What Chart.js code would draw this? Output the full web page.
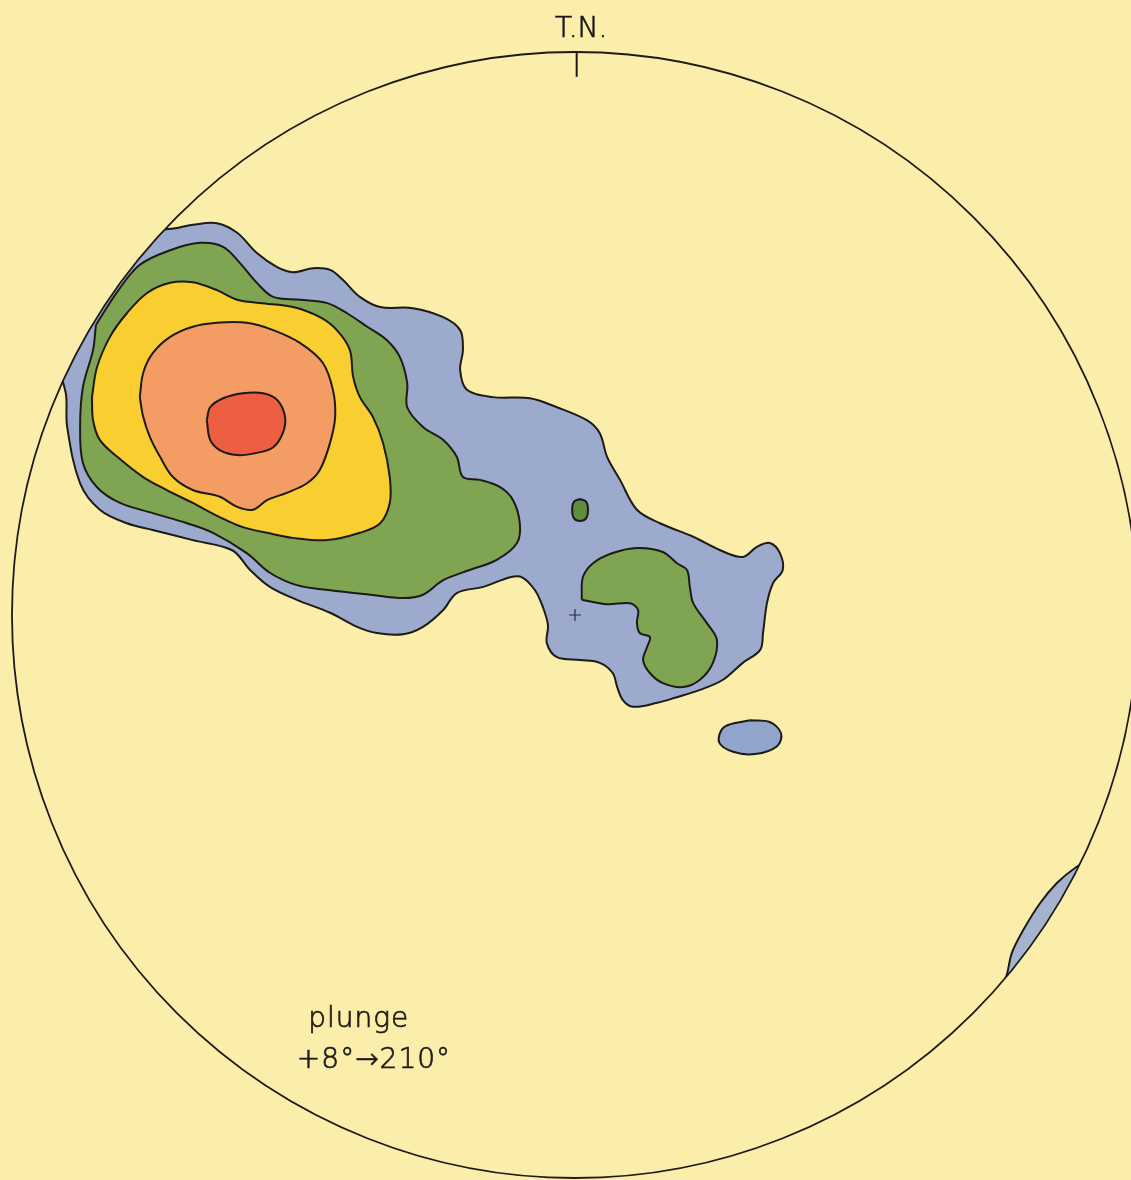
<!DOCTYPE html>
<html>
<head>
<meta charset="utf-8">
<script src="https://cdn.jsdelivr.net/npm/chart.js@4"></script>
<style>
  html, body { margin: 0; padding: 0; background: #FBEEAA; overflow: hidden; }
  #wrap { position: relative; width: 1131px; height: 1180px; }
  canvas { display: block; }
</style>
</head>
<body>
<div id="wrap"><canvas id="c"></canvas></div>
<script>
// Stereonet coordinates: net radius = 100, centre at (0,0), north up.
const NET_RADIUS = 100;

// Contour outlines (x, y) in net coordinates
const blueOuter = [
  [-82.6,63.9],[-75.5,68.0],[-71.0,68.7],[-67.9,69.3],[-63.6,69.6],[-60.0,67.9],[-56.5,64.3],[-52.9,61.8],
  [-50.1,60.9],[-46.5,61.6],[-43.5,61.3],[-41.2,59.5],[-38.2,56.5],[-34.6,54.7],[-28.8,54.5],[-23.4,52.9],
  [-20.4,50.6],[-19.9,47.1],[-20.4,43.5],[-19.2,40.0],[-14.6,38.7],[-8.0,38.5],[-3.2,36.9],[2.1,34.6],
  [4.4,32.3],[5.7,28.1],[8.0,24.0],[11.0,18.7],[15.1,16.3],[21.0,13.9],[25.8,11.5],[29.8,10.3],
  [32.3,12.1],[34.6,12.8],[36.4,11.0],[36.9,8.0],[35.2,5.7],[34.1,2.1],[33.4,-3.2],[32.9,-6.2],
  [29.8,-8.5],[26.3,-11.5],[22.2,-13.3],[18.1,-14.6],[14.6,-15.6],[10.3,-16.3],[8.5,-15.1],[7.5,-12.8],
  [6.7,-10.3],[4.4,-8.5],[0.9,-8.0],[-3.2,-7.5],[-5.0,-5.0],[-4.8,-1.8],[-5.7,1.4],[-7.1,4.4],
  [-9.4,6.7],[-11.5,6.7],[-16.3,5.0],[-21.0,3.9],[-23.4,0.9],[-27.0,-2.1],[-30.5,-3.4],[-35.2,-3.2],
  [-38.7,-2.1],[-43.5,0.4],[-49.4,2.7],[-54.2,5.0],[-57.7,8.0],[-60.9,11.5],[-67.9,13.3],[-75.0,15.1],
  [-79.6,16.3],[-84.4,18.7],[-87.9,23.4],[-90.2,33.4],[-90.4,39.1],[-91.5,43.5],[-92.4,52.4]
];
const blueSpot = [
  [31.1,-18.7],[34.6,-19.0],[36.6,-21.0],[35.9,-23.3],[32.0,-24.7],[28.1,-24.3],[25.6,-22.6],[26.5,-19.9]
];
const blueLens = [
  [91.5,-43.5],[89.0,-44.8],[85.6,-47.6],[82.6,-51.2],[79.6,-56.0],[77.6,-60.0],[76.7,-63.9],[75.5,-67.0],[96.8,-56.0]
];
const greenMain = [
  [-85.1,51.5],[-81.3,57.4],[-77.3,62.2],[-71.9,64.8],[-66.6,66.1],[-62.5,65.4],[-59.5,62.5],[-56.5,59.0],
  [-53.6,56.5],[-48.8,56.0],[-44.0,55.4],[-40.5,53.6],[-36.9,51.2],[-33.4,48.8],[-31.1,45.8],[-29.8,41.2],
  [-29.8,36.9],[-27.0,33.4],[-23.4,31.1],[-21.0,28.1],[-19.9,24.5],[-16.9,24.0],[-13.3,22.7],[-11.0,20.4],
  [-9.8,16.3],[-10.3,12.8],[-13.9,9.8],[-18.7,8.0],[-23.4,6.2],[-27.0,3.6],[-30.5,3.0],[-36.4,3.6],
  [-43.5,4.4],[-49.4,5.3],[-54.2,7.5],[-58.3,11.0],[-64.3,14.6],[-68.9,16.3],[-75.0,18.1],
  [-80.8,19.9],[-84.9,22.7],[-87.4,27.0],[-87.9,33.4],[-87.4,40.5],[-85.6,47.1]
];
const greenIsland = [
  [1.2,2.7],[1.4,6.7],[3.2,9.2],[6.7,11.0],[11.0,11.9],[15.6,11.2],[18.1,9.2],[19.9,8.0],
  [20.4,5.0],[21.0,2.1],[23.4,-1.4],[25.2,-4.4],[24.5,-8.5],[22.2,-11.5],[19.2,-12.8],[15.6,-12.1],
  [13.3,-10.3],[12.1,-8.0],[12.8,-5.7],[13.3,-3.9],[11.5,-3.2],[11.0,-1.4],[11.2,0.9],[9.8,2.1],[5.7,1.9]
];
const greenSpot = [
  [0.9,20.6],[2.0,20.1],[2.3,18.7],[2.0,17.2],[0.9,16.7],[-0.2,17.2],[-0.5,18.7],[-0.2,20.1]
];
const yellowLevel = [
  [-85.8,38.7],[-84.9,44.0],[-82.6,49.4],[-79.6,53.6],[-76.0,57.2],[-71.9,59.0],[-67.9,59.1],[-63.6,57.7],
  [-60.0,56.0],[-56.0,55.4],[-50.1,54.7],[-45.3,52.9],[-42.3,50.6],[-40.0,47.1],[-39.4,42.3],[-38.2,38.7],
  [-35.9,35.2],[-34.1,30.6],[-32.9,24.5],[-32.9,19.9],[-34.6,16.3],[-38.2,14.6],[-44.0,13.3],[-50.1,13.7],
  [-54.7,14.6],[-59.0,15.6],[-63.1,17.4],[-67.9,19.9],[-72.5,22.2],[-76.7,24.5],[-81.3,28.1],[-84.4,31.1],[-85.6,34.6]
];
const orangeLevel = [
  [-77.3,38.7],[-76.7,43.0],[-75.0,46.5],[-71.9,49.4],[-67.9,51.2],[-63.6,51.9],[-58.3,51.9],[-53.6,50.6],
  [-48.8,48.3],[-44.8,44.8],[-43.0,40.0],[-42.6,35.2],[-43.5,30.6],[-45.3,25.8],[-47.6,23.4],[-51.2,21.7],
  [-54.7,20.4],[-57.2,18.7],[-60.0,19.2],[-63.1,21.0],[-67.9,22.2],[-71.4,24.5],[-73.7,28.1],[-75.5,31.6],[-76.7,35.2]
];
const redLevel = [
  [-65.4,34.6],[-64.8,36.9],[-62.5,38.5],[-59.0,39.4],[-55.4,39.4],[-52.9,38.2],[-51.5,35.2],[-51.9,32.3],
  [-53.6,29.8],[-56.5,28.8],[-60.0,28.4],[-63.1,29.3],[-64.8,31.1]
];
const netCentre = [[0, 0]];
const northLabel = 'T.N.';
const plungeLabel = ['plunge', '+8°→210°'];

const PAPER = '#FBEEAA';
const INK = '#1d1a17';

function closed(arr) {
  const p = arr.map(([x, y]) => ({ x, y }));
  p.push({ x: arr[0][0], y: arr[0][1] });
  return p;
}
function area(label, arr, color, order) {
  return {
    type: 'line', label, data: closed(arr), fill: 'shape',
    backgroundColor: color, borderColor: INK, borderWidth: 2,
    pointRadius: 0, pointHoverRadius: 0, tension: 0.35, order
  };
}

const netPlugin = {
  id: 'net',
  beforeDraw(chart) {
    const { ctx, width, height } = chart;
    ctx.save(); ctx.fillStyle = PAPER; ctx.fillRect(0, 0, width, height); ctx.restore();
  },
  beforeDatasetsDraw(chart) {
    const { ctx, scales: { x, y } } = chart;
    const cx = x.getPixelForValue(0), cy = y.getPixelForValue(0);
    const r = x.getPixelForValue(NET_RADIUS) - cx;
    ctx.save();
    ctx.beginPath(); ctx.arc(cx, cy, r, 0, Math.PI * 2); ctx.clip();
  },
  afterDatasetsDraw(chart) {
    const { ctx, scales: { x, y } } = chart;
    ctx.restore();
    const cx = x.getPixelForValue(0), cy = y.getPixelForValue(0);
    const r = x.getPixelForValue(NET_RADIUS) - cx;
    ctx.save();
    ctx.strokeStyle = INK; ctx.lineWidth = 1.8;
    ctx.beginPath(); ctx.arc(cx, cy, r, 0, Math.PI * 2); ctx.stroke();
    // north tick
    ctx.lineWidth = 2;
    ctx.beginPath();
    ctx.moveTo(x.getPixelForValue(0.3), y.getPixelForValue(NET_RADIUS));
    ctx.lineTo(x.getPixelForValue(0.3), y.getPixelForValue(NET_RADIUS - 4.4));
    ctx.stroke();
    ctx.fillStyle = INK; ctx.strokeStyle = INK; ctx.lineWidth = 0.7;
    ctx.textBaseline = 'alphabetic';
    ctx.font = '200 28px "DejaVu Sans"';
    ctx.textAlign = 'center';
    const tn = [x.getPixelForValue(1.1), y.getPixelForValue(102.7)];
    ctx.fillText(northLabel, tn[0], tn[1]); ctx.strokeText(northLabel, tn[0], tn[1]);
    ctx.textAlign = 'left';
    ctx.font = '200 28px "DejaVu Sans"';
    if ('letterSpacing' in ctx) ctx.letterSpacing = '1px';
    const p1 = [x.getPixelForValue(-47.4), y.getPixelForValue(-73.2)];
    const p2 = [x.getPixelForValue(-49.4), y.getPixelForValue(-80.5)];
    ctx.fillText(plungeLabel[0], p1[0], p1[1]); ctx.strokeText(plungeLabel[0], p1[0], p1[1]);
    ctx.fillText(plungeLabel[1], p2[0], p2[1]); ctx.strokeText(plungeLabel[1], p2[0], p2[1]);
    ctx.restore();
  }
};

new Chart(document.getElementById('c'), {
  type: 'scatter',
  data: {
    datasets: [
      { type: 'scatter', label: 'centre', data: netCentre.map(([x, y]) => ({ x, y })),
        pointStyle: 'cross', pointRadius: 6, pointHoverRadius: 6, borderColor: '#2a2a40', borderWidth: 1.2, order: -1 },
      area('level 5', redLevel, '#EE5E40', 0),
      area('level 4', orangeLevel, '#F39C63', 1),
      area('level 3', yellowLevel, '#F8CE30', 2),
      area('level 2', greenMain, '#7FA553', 3),
      area('level 2 island', greenIsland, '#7FA553', 3),
      area('level 2 spot', greenSpot, '#5E8F3E', 3),
      area('level 1', blueOuter, '#9CABCD', 4),
      area('level 1 spot', blueSpot, '#91A4CC', 4),
      area('level 1 lens', blueLens, '#A5B3CF', 4)
    ]
  },
  options: {
    responsive: true, maintainAspectRatio: false, animation: false, events: [],
    layout: { padding: 0, autoPadding: false },
    plugins: { legend: { display: false }, tooltip: { enabled: false }, title: { display: false } },
    scales: {
      x: { type: 'linear', min: -102.13, max: 98.76, display: false },
      y: { type: 'linear', min: -100.36, max: 109.24, display: false }
    }
  },
  plugins: [netPlugin]
});
</script>
</body>
</html>
